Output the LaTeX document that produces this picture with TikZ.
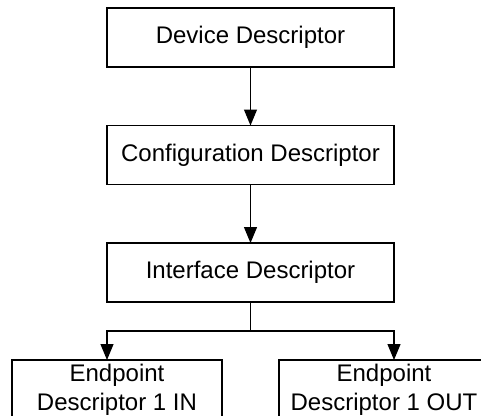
\documentclass[tikz,border=0pt]{standalone}
\usepackage{fontspec}
\setmainfont{Liberation Sans}
\usetikzlibrary{arrows.meta}
\begin{document}
\begin{tikzpicture}[x=1pt,y=-1pt,
  box/.style={draw=black,line width=1.2pt,inner sep=0pt,outer sep=0pt,
    minimum width=287pt,minimum height=59pt,font=\fontsize{24}{29}\selectfont,align=center},
  ebox/.style={box,minimum width=210pt},
  arr/.style={line width=1.2pt,-{Triangle[length=16pt,width=13pt]}},
  conn/.style={line width=1.2pt}]
\useasboundingbox (0,0) rectangle (481,415);
\node[box] (dev) at (250.5,37.5) {Device Descriptor};
\node[box] (cfg) at (250.5,155) {Configuration Descriptor};
\node[box] (ifc) at (250.5,272.5) {Interface Descriptor};
\node[ebox] (ein) at (117,389.5) {Endpoint\\Descriptor 1 IN};
\node[ebox] (eout) at (384,389.5) {Endpoint\\Descriptor 1 OUT};
\coordinate (br) at (250.5,331);
\draw[arr] (dev.south) -- (cfg.north);
\draw[arr] (cfg.south) -- (ifc.north);
\draw[conn] (ifc.south) -- (br);
\draw[arr] (br) -| (ifc.west |- ein.north);
\draw[arr] (br) -| (ifc.east |- eout.north);
\end{tikzpicture}
\end{document}
